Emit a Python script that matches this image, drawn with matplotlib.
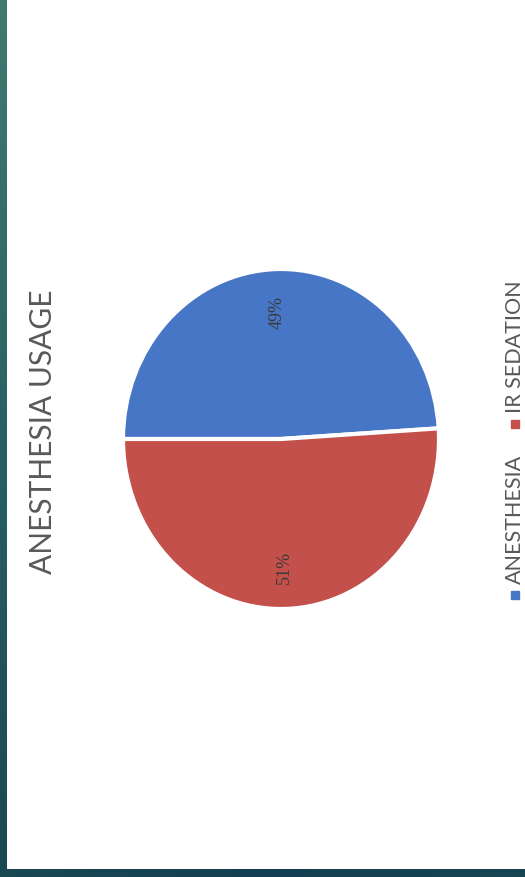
import numpy as np
import matplotlib
matplotlib.use("Agg")
from matplotlib import pyplot as plt
from matplotlib.colors import LinearSegmentedColormap

categories = ["ANESTHESIA", "IR SEDATION"]
shares = [49, 51]
colors = ["#4776c6", "#c4504c"]
title = "ANESTHESIA USAGE"

W, H = 525, 878
fig = plt.figure(figsize=(W / 100, H / 100), dpi=100)
fig.patch.set_facecolor("white")

# slide frame: teal strip on the left, dark band along the bottom
bg = fig.add_axes([0, 0, 1, 1], zorder=-5)
bg.set_xlim(0, W)
bg.set_ylim(H, 0)
bg.axis("off")
strip = LinearSegmentedColormap.from_list("strip", ["#3f7b70", "#2a6064", "#1a4753"])
grad = np.linspace(0, 1, 256).reshape(-1, 1)
bg.imshow(grad, cmap=strip, extent=[0, 7, H, 0], aspect="auto")
band = LinearSegmentedColormap.from_list("band", ["#1a4852", "#143f52", "#174552"])
bg.imshow(np.linspace(0, 1, 256).reshape(1, -1), cmap=band,
          extent=[0, W, H, 870], aspect="auto")

# pie (drawn in the slide's rotated orientation)
left, right, top, bottom = 123, 439, 270, 610
ax = fig.add_axes([left / W, 1 - bottom / H, (right - left) / W, (bottom - top) / H])
wedges, texts, autotexts = ax.pie(
    shares, colors=colors, startangle=180, counterclock=False,
    autopct="%1.0f%%", pctdistance=0.75,
    wedgeprops=dict(edgecolor="white", linewidth=3),
    textprops=dict(family="Liberation Serif", fontsize=13, color="#3a3a3a"),
)
for t in autotexts:
    t.set_rotation(90)
ax.set_aspect("auto")
ax.set_xlim(-1.0, 1.0)
ax.set_ylim(-1.0, 1.0)

fig.text(43 / W, 1 - 432 / H, title, rotation=90, ha="center", va="center",
         family="Lato", fontsize=21.5, color="#595959")

# legend, rotated with the slide
leg_x = 515
ys = [596, 425]
for name, c, y in zip(categories, colors, ys):
    bg.add_patch(plt.Rectangle((leg_x - 4, y - 4), 8, 8, color=c))
    bg.text(leg_x, y - 12, name, rotation=90, ha="center", va="bottom",
            family="Lato", fontsize=15.5, color="#595959")

fig.savefig("out.png", dpi=100)
